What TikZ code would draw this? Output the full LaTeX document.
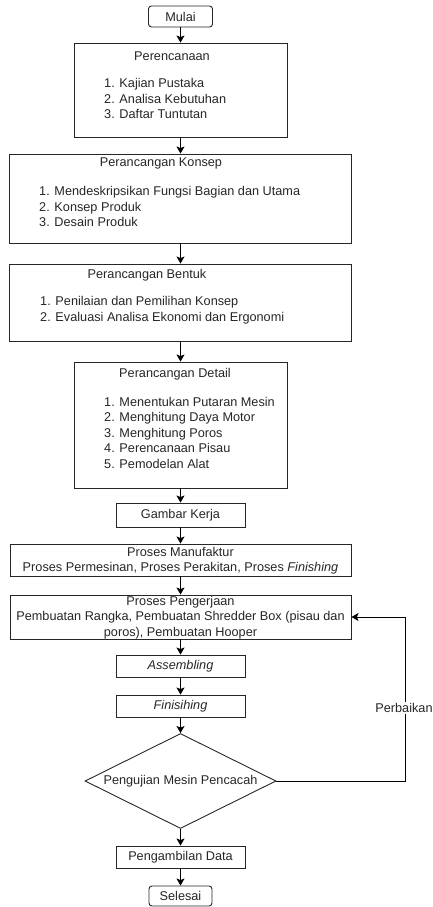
\documentclass[tikz,border=0pt]{standalone}
\usepackage{fontspec}
\setmainfont{Liberation Sans}
\usetikzlibrary{shapes.geometric,arrows.meta}
\begin{document}
\begin{tikzpicture}[x=1pt,y=-1pt,
  font=\fontsize{12.7}{15.5}\selectfont,
  every node/.style={text=black!85},
  box/.style={draw=black!85, line width=0.9pt, rectangle, inner sep=0pt},
  term/.style={box, rounded corners=3pt},
  txt/.style={inner sep=0pt, align=left},
  ctxt/.style={inner sep=0pt, align=center},
  arr/.style={draw=black, line width=1pt, -{Stealth[length=7pt,width=8pt,inset=1.5pt]}},
  lnk/.style={draw=black, line width=0.9pt}]
\useasboundingbox (0,0) rectangle (432,907);

% boxes
\node[term, minimum width=64pt, minimum height=21pt] (mulai) at (180.5,16.5) {Mulai};
\node[box, minimum width=213pt, minimum height=94pt] (per) at (180.5,90) {};
\node[box, minimum width=342pt, minimum height=89pt] (kon) at (180.5,198.5) {};
\node[box, minimum width=342pt, minimum height=77pt] (ben) at (180.5,302.5) {};
\node[box, minimum width=213pt, minimum height=126pt] (det) at (180.5,425) {};
\node[box, minimum width=129pt, minimum height=24pt] (gam) at (180.5,515) {Gambar Kerja};
\node[box, minimum width=341pt, minimum height=32pt] (man) at (180.5,560) {};
\node[box, minimum width=341pt, minimum height=44pt] (pen) at (180.5,617) {};
\node[box, minimum width=129pt, minimum height=22pt] (ass) at (180.5,666) {\itshape Assembling};
\node[box, minimum width=129pt, minimum height=22pt] (fin) at (180.5,706) {\itshape Finisihing};
\node[draw=black!85, line width=0.9pt, diamond, inner sep=0pt, minimum width=191pt, minimum height=95pt] (uji) at (180.5,781) {};
\node[box, minimum width=129pt, minimum height=22pt] (amb) at (180.5,857) {Pengambilan Data};
\node[term, minimum width=63pt, minimum height=20pt] (sel) at (180.5,896) {Selesai};

% texts
\node[ctxt] (perT) at (172,56) {Perencanaan};
\node[txt, anchor=west] (perL) at (104,98.5) {1. Kajian Pustaka\\2. Analisa Kebutuhan\\3. Daftar Tuntutan};
\node[ctxt] (konT) at (161,163) {Perancangan Konsep};
\node[txt, anchor=west] (konL) at (39,206.5) {1. Mendeskripsikan Fungsi Bagian dan Utama\\2. Konsep Produk\\3. Desain Produk};
\node[ctxt] (benT) at (147,275) {Perancangan Bentuk};
\node[txt, anchor=west] (benL) at (40,310) {1. Penilaian dan Pemilihan Konsep\\2. Evaluasi Analisa Ekonomi dan Ergonomi};
\node[ctxt] (detT) at (175,374) {Perancangan Detail};
\node[txt, anchor=west] (detL) at (104,432.5) {1. Menentukan Putaran Mesin\\2. Menghitung Daya Motor\\3. Menghitung Poros\\4. Perencanaan Pisau\\5. Pemodelan Alat};
\node[ctxt] (manT) at (180.5,560.5) {Proses Manufaktur\\Proses Permesinan, Proses Perakitan, Proses \textit{Finishing}};
\node[ctxt] (penT) at (180.5,617.5) {Proses Pengerjaan\\Pembuatan Rangka, Pembuatan Shredder Box (pisau dan\\poros), Pembuatan Hooper};
\node[ctxt] (ujiT) at (180.5,781) {Pengujian Mesin Pencacah};

% arrows
\draw[arr] (mulai) -- (per);
\draw[arr] (per) -- (kon);
\draw[arr] (kon) -- (ben);
\draw[arr] (ben) -- (det);
\draw[arr] (det) -- (gam);
\draw[arr] (gam) -- (man);
\draw[arr] (man) -- (pen);
\draw[arr] (pen) -- (ass);
\draw[arr] (ass) -- (fin);
\draw[arr] (fin) -- (uji.north);
\draw[arr] (uji.south) -- (amb);
\draw[arr] (amb) -- (sel);

% feedback
\coordinate (c1) at (405,781);
\coordinate (c2) at (405,617);
\draw[arr] (uji.east) -- (c1) -- (c2) -- (pen.east);
\node[ctxt, fill=white, inner sep=1pt] (perb) at (404,708) {Perbaikan};
\end{tikzpicture}
\end{document}
